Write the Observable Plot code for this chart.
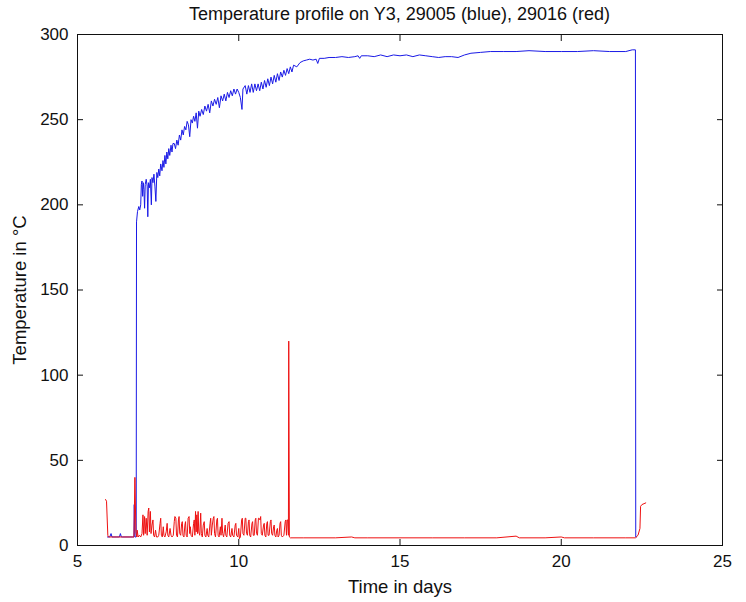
<!DOCTYPE html>
<html>
<head>
<meta charset="utf-8">
<script src="https://cdn.jsdelivr.net/npm/d3@7"></script>
<script src="https://cdn.jsdelivr.net/npm/@observablehq/plot@0.6"></script>
<style>
  body { margin: 0; background: white; font-family: "Liberation Sans", Arial, sans-serif; }
  #title { height: 20px; line-height: 28px; font-size: 18px; padding-left: 53px; width: 693px; text-align: center; color: #111; white-space: nowrap; }
</style>
</head>
<body>
<div id="title">Temperature profile on Y3, 29005 (blue), 29016 (red)</div>
<div id="chart"></div>
<script>
const titleText = "Temperature profile on Y3, 29005 (blue), 29016 (red)";
const xLabel = "Time in days";
const yLabel = "Temperature in °C";
const xTicks = [5, 10, 15, 20, 25];
const yTicks = [0, 50, 100, 150, 200, 250, 300];

// sensor 29005 (blue): [time in days, temperature °C]
const bluePoints = [
  [5.93,5],[6.0,5],[6.04,7],[6.07,5],[6.3,5],[6.33,7],[6.36,5],[6.7,5],[6.75,5],[6.76,24],[6.78,5],[6.82,5],
  [6.83,190],[6.86,196],[6.9,199],[6.93,197],[6.96,200],[6.98,212],[7.0,214],[7.02,205],[7.04,213],[7.06,209],
  [7.08,198],[7.1,212],[7.13,215],[7.16,211],[7.18,193],[7.2,213],[7.23,210],[7.26,215],[7.29,200],[7.31,216],
  [7.34,213],[7.37,218],[7.4,211],[7.43,202],[7.46,219],[7.49,216],[7.52,221],[7.55,217],[7.58,224],[7.62,220],
  [7.65,226],[7.68,222],[7.71,229],[7.74,224],[7.77,231],[7.8,227],[7.83,233],[7.86,229],[7.9,235],[7.93,231],
  [7.96,236],[8.0,236],[8.04,233],[8.08,238],[8.12,235],[8.16,241],[8.2,238],[8.24,244],[8.28,241],[8.32,246],
  [8.36,244],[8.4,249],[8.44,247],[8.48,240],[8.52,250],[8.56,248],[8.6,252],[8.64,249],[8.68,254],[8.72,245],
  [8.76,255],[8.8,252],[8.85,256],[8.9,253],[8.95,258],[9.0,255],[9.05,259],[9.1,254],[9.15,261],[9.2,258],
  [9.25,262],[9.3,259],[9.35,263],[9.4,257],[9.45,264],[9.5,261],[9.55,265],[9.6,261],[9.65,266],[9.7,263],
  [9.75,267],[9.8,264],[9.85,268],[9.9,265],[9.95,268],[10.0,266],[10.05,263],[10.1,256],[10.13,268],[10.2,270],
  [10.25,265],[10.3,270],[10.35,266],[10.4,271],[10.45,266],[10.5,271],[10.55,267],[10.6,271],[10.65,267],
  [10.7,272],[10.75,268],[10.8,273],[10.85,269],[10.9,274],[10.95,270],[11.0,275],[11.05,271],[11.1,276],
  [11.15,272],[11.2,277],[11.25,273],[11.3,278],[11.35,275],[11.4,279],[11.45,276],[11.5,280],[11.55,277],
  [11.6,281],[11.65,278],[11.7,282],[11.8,281],[11.9,283.5],[12.0,284.5],[12.1,285],[12.2,285.5],[12.3,285],
  [12.4,285.5],[12.45,283],[12.5,286],[12.65,286],[12.8,286.5],[13.0,286.5],[13.2,287],[13.4,286.5],[13.6,287],
  [13.7,287.5],[13.75,286],[13.8,287.5],[14.0,287.5],[14.2,287],[14.4,288],[14.6,287],[14.8,288],[15.0,287.5],
  [15.2,288],[15.4,287],[15.6,288],[15.8,287.5],[16.0,287],[16.2,286.5],[16.4,287],[16.6,287],[16.8,286.5],
  [17.0,288],[17.2,289],[17.5,289.5],[17.8,290],[18.2,290],[18.6,290],[19.0,290.5],[19.5,290],[20.0,290],
  [20.5,290],[21.0,290.5],[21.5,290],[22.0,290],[22.2,291],[22.3,291],[22.31,5],[22.33,5]
];

// sensor 29016 (red): [time in days, temperature °C]
const redPoints = [
  [5.87,27],[5.9,26],[5.94,6],[5.96,5],[6.0,5],[6.1,5],[6.2,5],[6.4,5],[6.6,5],[6.75,5],[6.78,40],[6.81,8],[6.84,5],
  [6.85,9],[6.88,5],[6.92,6],[6.96,5],[7.0,7],[7.03,18],[7.05,6],[7.08,17],[7.1,7],[7.13,16],[7.16,6],[7.19,20],
  [7.21,22],[7.23,8],[7.26,20],[7.28,7],[7.31,12],[7.34,15],[7.36,6],[7.39,5],[7.42,9],[7.45,5],[7.49,5],[7.52,6],
  [7.56,13],[7.58,16],[7.6,6],[7.63,5],[7.66,11],[7.68,6],[7.71,5],[7.75,8],[7.78,13],[7.8,6],[7.83,5],[7.87,10],
  [7.9,6],[7.93,5],[7.97,6],[8.0,14],[8.02,17],[8.05,16],[8.07,6],[8.1,5],[8.13,15],[8.15,17],[8.17,7],[8.2,6],
  [8.23,13],[8.25,14],[8.27,6],[8.3,5],[8.33,12],[8.35,14],[8.37,6],[8.4,5],[8.43,16],[8.46,17],[8.48,7],[8.5,11],
  [8.52,6],[8.56,5],[8.6,13],[8.62,15],[8.64,6],[8.66,20],[8.68,8],[8.7,18],[8.72,7],[8.74,20],[8.76,8],[8.79,6],
  [8.82,19],[8.84,7],[8.87,5],[8.9,12],[8.93,14],[8.95,6],[8.98,5],[9.02,10],[9.04,6],[9.07,5],[9.11,13],[9.13,16],
  [9.15,6],[9.18,12],[9.21,16],[9.23,17],[9.25,7],[9.28,5],[9.32,15],[9.34,16],[9.36,6],[9.39,5],[9.43,11],
  [9.45,6],[9.48,16],[9.5,7],[9.53,5],[9.58,12],[9.6,6],[9.63,5],[9.67,13],[9.7,14],[9.72,6],[9.75,5],[9.79,10],
  [9.81,6],[9.85,5],[9.89,12],[9.91,13],[9.93,6],[9.97,5],[10.0,10],[10.02,4],[10.05,5],[10.09,15],[10.11,16],
  [10.13,7],[10.16,6],[10.2,16],[10.22,16],[10.24,7],[10.27,6],[10.3,14],[10.32,15],[10.34,6],[10.37,5],
  [10.41,13],[10.43,14],[10.45,6],[10.48,6],[10.51,15],[10.53,16],[10.55,7],[10.58,6],[10.61,16],[10.63,16],
  [10.66,15],[10.68,17],[10.7,7],[10.73,6],[10.77,12],[10.79,13],[10.81,6],[10.84,5],[10.87,13],[10.89,14],
  [10.91,6],[10.94,6],[10.98,14],[11.0,15],[11.02,7],[11.05,6],[11.08,11],[11.1,12],[11.12,6],[11.15,5],
  [11.18,9],[11.2,10],[11.22,5],[11.25,6],[11.28,13],[11.3,14],[11.32,6],[11.35,5],[11.4,6],[11.44,14],
  [11.46,15],[11.48,6],[11.5,15],[11.52,15],[11.54,6],[11.55,120],[11.57,5],[11.6,4.5],
  [12,4.5],[13,4.5],[13.5,5],[13.6,4.5],[14,4.5],[15,4.5],[16,4.5],[17,4.5],[18,4.5],[18.6,5.5],[18.7,4.5],
  [19.5,4.5],[20,5],[20.1,4.5],[21,4.5],[22,4.5],[22.3,4.5],[22.38,6],[22.44,10],[22.46,23],[22.5,24],[22.62,25]
];

const blue = bluePoints.map(([t, v]) => ({t, v}));
const red = redPoints.map(([t, v]) => ({t, v}));

document.getElementById("title").textContent = titleText;

const chart = Plot.plot({
  width: 746,
  height: 582,
  marginLeft: 77,
  marginRight: 24,
  marginTop: 14,
  marginBottom: 57,
  style: { fontFamily: "'Liberation Sans', Arial, sans-serif", fontSize: "17px", background: "white", color: "#111", overflow: "visible" },
  x: { domain: [5, 25] },
  y: { domain: [0, 300] },
  marks: [
    Plot.line(blue, { x: "t", y: "v", stroke: "#1a1ae6", strokeWidth: 1 }),
    Plot.line(red, { x: "t", y: "v", stroke: "#ee1111", strokeWidth: 1 }),
    Plot.frame({ stroke: "#111" }),
    Plot.axisX({ ticks: xTicks, tickSize: -6, tickPadding: 15, label: null }),
    Plot.axisX({ anchor: "top", ticks: xTicks, tickSize: -6, tickFormat: () => "", label: null }),
    Plot.axisY({ ticks: yTicks, tickSize: -6, tickPadding: 15, label: null }),
    Plot.axisY({ anchor: "right", ticks: yTicks, tickSize: -6, tickFormat: () => "", label: null }),
    Plot.text([xLabel], { frameAnchor: "bottom", lineAnchor: "middle", dy: 42, fontSize: 18.5, fill: "#111" }),
    Plot.text([yLabel], { frameAnchor: "left", textAnchor: "middle", lineAnchor: "middle", rotate: -90, dx: -57, fontSize: 18.5, fill: "#111" })
  ]
});
document.getElementById("chart").appendChild(chart);
</script>
</body>
</html>
